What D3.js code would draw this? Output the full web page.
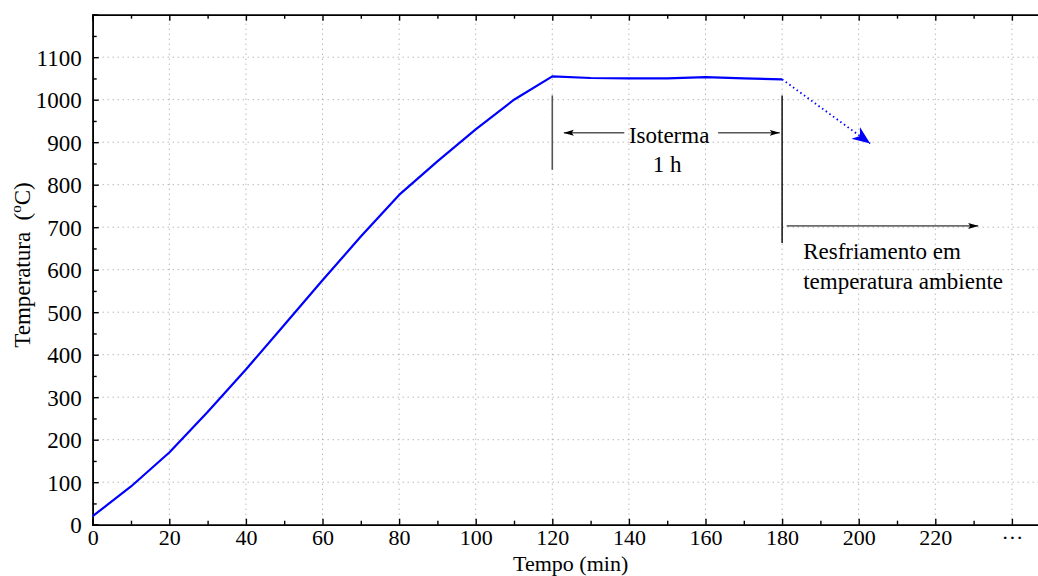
<!DOCTYPE html>
<html>
<head>
<meta charset="utf-8">
<script src="https://cdn.jsdelivr.net/npm/d3@7"></script>
<style>
  body { margin: 0; background: #fff; }
  svg { display: block; font-family: "Liberation Serif", "DejaVu Serif", serif; }
</style>
</head>
<body>
<div id="chart"></div>
<script>
// data
var tempo = [0, 10, 20, 30, 40, 50, 60, 70, 80, 90, 100, 110, 120, 130, 140, 150, 160, 170, 180];
var temperatura = [20, 90, 170, 265, 365, 470, 575, 678, 776, 855, 930, 1000, 1055, 1051, 1050, 1050, 1053, 1050, 1048];
var xTicks = [0, 20, 40, 60, 80, 100, 120, 140, 160, 180, 200, 220, 240];
var xTickLabels = ["0", "20", "40", "60", "80", "100", "120", "140", "160", "180", "200", "220", "\u00b7\u00b7\u00b7"];
var yTicks = [0, 100, 200, 300, 400, 500, 600, 700, 800, 900, 1000, 1100];
// cooling arrow (dotted): from end of isotherm down to
var resfriamento = [[180, 1048], [203, 897]];

var W = 1038, H = 576;
var margin = { left: 92.7, top: 14.7, bottom: 51.3 };

var svg = d3.select("#chart").append("svg")
  .attr("width", W).attr("height", H);

var x = d3.scaleLinear().domain([0, 250]).range([margin.left, margin.left + 250 * 3.83]);
var y = d3.scaleLinear().domain([0, 1200]).range([H - margin.bottom, margin.top]);

var defs = svg.append("defs");
defs.append("marker").attr("id", "blk")
  .attr("viewBox", "0 0 10 10").attr("refX", 10).attr("refY", 5)
  .attr("markerWidth", 10).attr("markerHeight", 10)
  .attr("markerUnits", "userSpaceOnUse").attr("orient", "auto-start-reverse")
  .append("path").attr("d", "M0,2 L10,5 L0,8 L2,5 Z").attr("fill", "#000");
defs.append("marker").attr("id", "blue")
  .attr("viewBox", "0 0 10 10").attr("refX", 10).attr("refY", 5)
  .attr("markerWidth", 18).attr("markerHeight", 18)
  .attr("markerUnits", "userSpaceOnUse").attr("orient", "auto")
  .append("path").attr("d", "M0,1 L10,5 L0,9 L3,5 Z").attr("fill", "#0000ff");

//grid
var grid = svg.append("g").attr("stroke", "#999").attr("stroke-width", 1)
  .attr("stroke-dasharray", "1,4");
grid.selectAll(".gx").data(xTicks.slice(1)).enter().append("line")
  .attr("x1", d => x(d)).attr("x2", d => x(d))
  .attr("y1", y(0)).attr("y2", y(1200));
grid.selectAll(".gy").data(yTicks.slice(1)).enter().append("line")
  .attr("x1", x(0)).attr("x2", W)
  .attr("y1", d => y(d)).attr("y2", d => y(d));

// axes (ticks pointing inward)
var xMinor = d3.range(10, 250, 20);
var yMinor = d3.range(50, 1200, 100);
var xAx = d3.axisBottom(x).tickValues(xTicks).tickSize(-6).tickFormat((d, i) => xTickLabels[i]).tickPadding(5);
var gx = svg.append("g").attr("transform", "translate(0," + y(0) + ")").call(xAx);
gx.append("g").call(d3.axisBottom(x).tickValues(xMinor).tickSize(-4).tickFormat(""));
var gxt = svg.append("g").attr("transform", "translate(0," + y(1200) + ")")
  .call(d3.axisTop(x).tickValues(xTicks).tickSize(-6).tickFormat(""));
gxt.append("g").call(d3.axisTop(x).tickValues(xMinor).tickSize(-4).tickFormat(""));

var yAx = d3.axisLeft(y).tickValues(yTicks).tickSize(-6).tickPadding(11).tickFormat(d3.format("d"));
var gy = svg.append("g").attr("transform", "translate(" + x(0) + ",0)").call(yAx);
gy.append("g").call(d3.axisLeft(y).tickValues(yMinor.concat([1200])).tickSize(-4).tickFormat(""));

svg.selectAll(".domain").attr("stroke", "#000").attr("stroke-width", 1.6);
svg.selectAll(".tick line").attr("stroke", "#000").attr("stroke-width", 1.4);
svg.selectAll(".tick text").attr("font-family", "Liberation Serif").attr("font-size", 23).attr("fill", "#000");
gx.selectAll(".tick text").attr("font-size", 22);
gy.selectAll(".tick text").attr("dy", "0.36em");

// main curve
var line = d3.line().x((d, i) => x(tempo[i])).y(d => y(d));
svg.append("path").datum(temperatura)
  .attr("d", line).attr("fill", "none")
  .attr("stroke", "#0000ff").attr("stroke-width", 2.2).attr("stroke-linejoin", "round");

// dotted cooling arrow
svg.append("line")
  .attr("x1", x(resfriamento[0][0])).attr("y1", y(resfriamento[0][1]))
  .attr("x2", x(resfriamento[1][0])).attr("y2", y(resfriamento[1][1]))
  .attr("stroke", "#0000ff").attr("stroke-width", 1.8).attr("stroke-dasharray", "1.5,3")
  .attr("marker-end", "url(#blue)");

// isotherm annotation
svg.append("line").attr("x1", x(120)).attr("x2", x(120)).attr("y1", y(1010)).attr("y2", y(835))
  .attr("stroke", "#555").attr("stroke-width", 1.6);
svg.append("line").attr("x1", x(180)).attr("x2", x(180)).attr("y1", y(1010)).attr("y2", y(663))
  .attr("stroke", "#000").attr("stroke-width", 1.4);
svg.append("line").attr("x1", x(123)).attr("x2", x(138.8)).attr("y1", y(922)).attr("y2", y(922))
  .attr("stroke", "#000").attr("stroke-width", 1).attr("marker-start", "url(#blk)");
svg.append("line").attr("x1", x(163.3)).attr("x2", x(179.4)).attr("y1", y(922)).attr("y2", y(922))
  .attr("stroke", "#000").attr("stroke-width", 1).attr("marker-end", "url(#blk)");
svg.append("line").attr("x1", x(181.2)).attr("x2", x(231.2)).attr("y1", y(703)).attr("y2", y(703))
  .attr("stroke", "#000").attr("stroke-width", 1).attr("marker-end", "url(#blk)");

var ann = svg.append("g").attr("font-size", 23).attr("fill", "#000");
ann.append("text").attr("x", x(150.5)).attr("y", y(898)).attr("text-anchor", "middle").text("Isoterma");
ann.append("text").attr("x", x(150)).attr("y", y(829)).attr("text-anchor", "middle").text("1 h");
ann.append("text").attr("x", x(185.5)).attr("y", y(626)).text("Resfriamento em");
ann.append("text").attr("x", x(185.5)).attr("y", y(555)).text("temperatura ambiente");

// axis titles
svg.append("text").attr("x", x(124.8)).attr("y", 571).attr("text-anchor", "middle")
  .attr("font-size", 22).text("Tempo (min)");
var yl = svg.append("text").attr("transform", "translate(30,265) rotate(-90)")
  .attr("text-anchor", "middle").attr("font-size", 23);
yl.append("tspan").text("Temperatura\u00a0\u00a0(");
yl.append("tspan").attr("font-size", 15).attr("dy", -9).text("o");
yl.append("tspan").attr("dy", 9).text("C)");
</script>
</body>
</html>
